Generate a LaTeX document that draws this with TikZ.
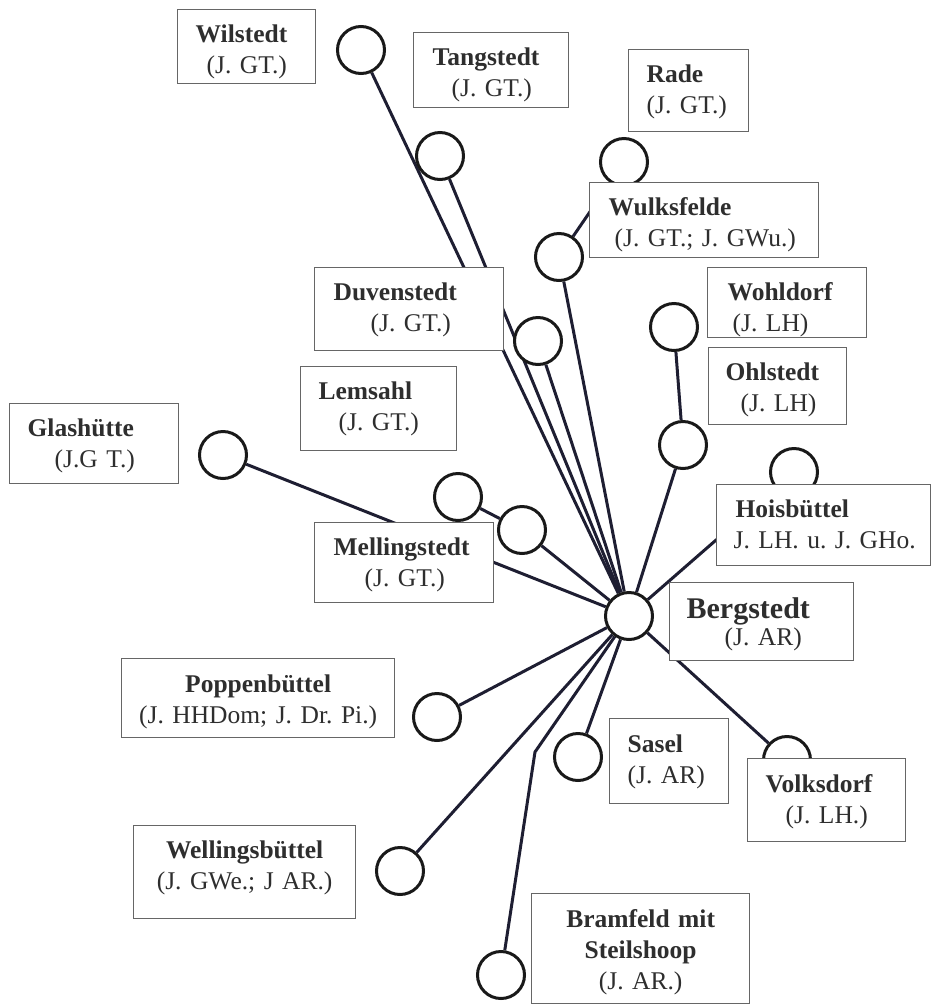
\documentclass[tikz,border=0pt]{standalone}
\usepackage{fontspec}
\setmainfont{Liberation Serif}
\pgfdeclarelayer{background}
\pgfsetlayers{background,main}
\definecolor{spoke}{RGB}{30,30,50}
\newcommand{\placefont}{\fontsize{25.5}{31}\selectfont\frenchspacing}

\begin{document}
\begin{tikzpicture}[
  x=1pt, y=-1pt,
  village/.style={circle, draw=black!90, line width=3pt, fill=white,
                  minimum size=47pt, inner sep=0pt},
  place/.style={draw=black!60, line width=1.3pt, fill=white, anchor=north west,
                inner sep=0pt, font=\placefont, text=black!82, align=left,
                text height=33pt},
  link/.style={draw=spoke, line width=3pt}
]
\useasboundingbox (0,0) rectangle (932,1005);

% villages
\node[village] (berg)  at (629,616) {};
\node[village] (wil)   at (361,50)  {};
\node[village] (tang)  at (440,156) {};
\node[village] (rade)  at (624,162) {};
\node[village] (wulk)  at (559,257) {};
\node[village] (wohl)  at (674,327) {};
\node[village] (duv)   at (538,341) {};
\node[village] (ohl)   at (683,445) {};
\node[village] (hois)  at (794,472) {};
\node[village] (lem)   at (458,497) {};
\node[village] (mel)   at (522,530) {};
\node[village] (glas)  at (223,455) {};
\node[village] (pop)   at (437,717) {};
\node[village] (sasel) at (578,757) {};
\node[village] (volk)  at (787,760) {};
\node[village] (well)  at (400,871) {};
\node[village] (bram)  at (501,975) {};
\coordinate (bramKnick) at (535,752);

% labels
\node[place, text width=138pt, text depth=41pt] (wilB) at (177,9)
  {\hspace*{18pt}\textbf{Wilstedt}\\\hspace*{29pt}(J. GT.)};
\node[place, text width=155pt, text depth=42pt] (tangB) at (413,32)
  {\hspace*{19pt}\textbf{Tangstedt}\\\hspace*{38pt}(J. GT.)};
\node[place, text width=120pt, text depth=49pt] (radeB) at (628,49)
  {\hspace*{18pt}\textbf{Rade}\\\hspace*{18pt}(J. GT.)};
\node[place, text width=229pt, text depth=42pt] (wulkB) at (589,182)
  {\hspace*{19pt}\textbf{Wulksfelde}\\\hspace*{25pt}(J. GT.; J. GWu.)};
\node[place, text width=159pt, text depth=37pt] (wohlB) at (707,267)
  {\hspace*{20pt}\textbf{Wohldorf}\\\hspace*{25pt}(J. LH)};
\node[place, text width=189pt, text depth=50pt] (duvB) at (314,267)
  {\hspace*{19pt}\textbf{Duvenstedt}\\\hspace*{56pt}(J. GT.)};
\node[place, text width=138pt, text depth=44pt] (ohlB) at (708,347)
  {\hspace*{17pt}\textbf{Ohlstedt}\\\hspace*{32pt}(J. LH)};
\node[place, text width=156pt, text depth=51pt] (lemB) at (300,366)
  {\hspace*{18pt}\textbf{Lemsahl}\\\hspace*{38pt}(J. GT.)};
\node[place, text width=169pt, text depth=47pt] (glasB) at (9,403)
  {\hspace*{18pt}\textbf{Glashütte}\\\hspace*{45pt}(J.G T.)};
\node[place, text width=214pt, text depth=48pt] (hoisB) at (716,484)
  {\hspace*{19pt}\textbf{Hoisbüttel}\\\hspace*{17pt}J. LH. u. J. GHo.};
\node[place, text width=179pt, text depth=47pt] (melB) at (314,522)
  {\hspace*{19pt}\textbf{Mellingstedt}\\\hspace*{50pt}(J. GT.)};
\node[place, text width=184pt, text height=36pt, text depth=42pt] (bergB) at (669,582)
  {\hspace*{17pt}{\fontsize{30}{34}\selectfont\textbf{Bergstedt}}\\[-4pt]\hspace*{55pt}(J. AR)};
\node[place, align=center, text width=273pt, text height=34pt, text depth=45pt] (popB) at (121,658)
  {\textbf{Poppenbüttel}\\(J. HHDom; J. Dr. Pi.)};
\node[place, text width=119pt, text height=34pt, text depth=51pt] (saselB) at (609,718)
  {\hspace*{18pt}\textbf{Sasel}\\\hspace*{18pt}(J. AR)};
\node[place, text width=158pt, text height=34pt, text depth=49pt] (volkB) at (747,758)
  {\hspace*{18pt}\textbf{Volksdorf}\\\hspace*{38pt}(J. LH.)};
\node[place, align=center, text width=222pt, text depth=60pt] (wellB) at (133,825)
  {\textbf{Wellingsbüttel}\\(J. GWe.; J AR.)};
\node[place, align=center, text width=218pt, text height=34pt, text depth=76pt] (bramB) at (531,893)
  {\textbf{Bramfeld mit}\\\textbf{Steilshoop}\\(J. AR.)};

% connections to Bergstedt
\begin{pgfonlayer}{background}
\draw[link] (wil) -- (berg);
\draw[link] (tang) -- (berg);
\draw[link] (duv) -- (berg);
\draw[link] (rade) -- (wulk);
\draw[link] (wulk) -- (berg);
\draw[link] (wohl) -- (ohl);
\draw[link] (ohl) -- (berg);
\draw[link] (hois) -- (berg);
\draw[link] (lem) -- (mel);
\draw[link] (mel) -- (berg);
\draw[link] (glas) -- (berg);
\draw[link] (pop) -- (berg);
\draw[link] (sasel) -- (berg);
\draw[link] (volk) -- (berg);
\draw[link] (well) -- (berg);
\draw[link] (bram) -- (bramKnick) -- (berg);
\end{pgfonlayer}
\end{tikzpicture}
\end{document}
